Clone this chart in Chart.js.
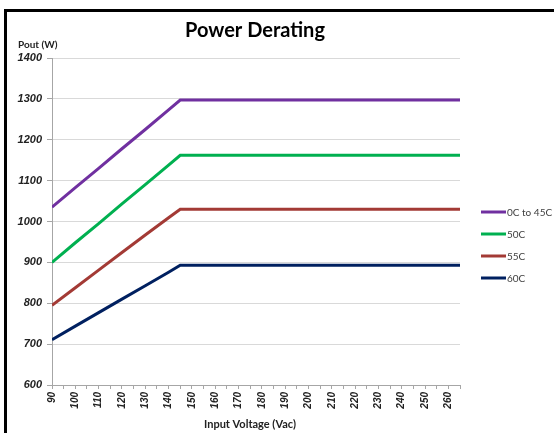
<!DOCTYPE html>
<html>
<head>
<meta charset="utf-8">
<script src="https://cdn.jsdelivr.net/npm/chart.js@4.4.0/dist/chart.umd.min.js"></script>
<style>
  html, body { margin: 0; padding: 0; background: #fff; }
  #wrap { position: relative; width: 554px; height: 433px; overflow: hidden; }
  #c { position: absolute; left: 0; top: 0; }
  .bl { position: absolute; left: 4px; top: 9px; width: 3px; height: 424px; background: #000; }
  .bt { position: absolute; left: 4px; top: 9px; width: 550px; height: 3px; background: #000; }
</style>
</head>
<body>
<div id="wrap">
  <canvas id="c" width="554" height="433"></canvas>
  <div class="bl"></div>
  <div class="bt"></div>
</div>
<script>
const chartTitle = 'Power Derating';
const yAxisTitle = 'Pout (W)';
const xAxisTitle = 'Input Voltage (Vac)';
const voltage = [90, 100, 110, 120, 130, 140, 145, 265];
const seriesNames = ['0C to 45C', '50C', '55C', '60C'];
const s0to45 = [1035, 1083, 1130, 1178, 1225, 1273, 1297, 1297];
const s50 = [900, 948, 995, 1043, 1090, 1138, 1162, 1162];
const s55 = [795, 838, 881, 924, 967, 1009, 1030, 1030];
const s60 = [711, 744, 777, 810, 843, 876, 893, 893];
const seriesColors = ['#7030A0', '#00B050', '#A33A35', '#002060'];
const xMin = 90, xMax = 265, xStep = 5, xLabelStep = 10, xLastLabel = 260;
const yMin = 600, yMax = 1400, yStep = 100;

const allSeries = [s0to45, s50, s55, s60];
const datasets = allSeries.map((vals, i) => ({
  label: seriesNames[i],
  data: vals.map((v, j) => ({ x: voltage[j], y: v })),
  borderColor: seriesColors[i],
  backgroundColor: seriesColors[i],
  borderWidth: 3,
  pointRadius: 0,
  tension: 0,
  fill: false
}));

const decor = {
  id: 'decor',
  afterDraw(chart) {
    const ctx = chart.ctx;
    ctx.save();
    ctx.fillStyle = '#000';
    ctx.textAlign = 'center';
    ctx.textBaseline = 'middle';
    ctx.font = 'bold 20px Lato';
    ctx.fillText(chartTitle, 255, 31);
    ctx.font = 'bold 10px Lato';
    ctx.textAlign = 'left';
    ctx.fillStyle = '#222';
    ctx.fillText(yAxisTitle, 18, 45);
    ctx.textAlign = 'center';
    ctx.font = 'bold 11px Lato';
    ctx.fillText(xAxisTitle, 250, 424);
    // legend
    const lx = 481, ly = 212, gap = 22;
    chart.data.datasets.forEach((ds, i) => {
      const y = ly + i * gap;
      ctx.strokeStyle = ds.borderColor;
      ctx.lineWidth = 3;
      ctx.beginPath();
      ctx.moveTo(lx, y);
      ctx.lineTo(lx + 25, y);
      ctx.stroke();
      ctx.fillStyle = '#404040';
      ctx.font = '10px Lato';
      ctx.textAlign = 'left';
      ctx.fillText(ds.label, lx + 26, y + 0.5);
    });
    ctx.restore();
  }
};

new Chart(document.getElementById('c'), {
  type: 'line',
  data: { datasets },
  options: {
    responsive: false,
    animation: false,
    devicePixelRatio: 1,
    layout: { padding: { left: 0, top: 58, right: 94, bottom: 0 } },
    plugins: { legend: { display: false }, title: { display: false }, tooltip: { enabled: false } },
    scales: {
      x: {
        type: 'linear',
        min: xMin, max: xMax,
        afterFit(s) { s.height = 48; },
        border: { display: true, color: '#A6A6A6', width: 1 },
        grid: { display: true, drawOnChartArea: false, drawTicks: true, tickLength: 4, color: '#A6A6A6' },
        ticks: {
          stepSize: xStep,
          autoSkip: false,
          minRotation: 90, maxRotation: 90,
          padding: 3,
          color: '#222',
          font: { family: 'Liberation Sans', size: 10, weight: 'bold', style: 'italic' },
          callback: (v) => (v % xLabelStep === 0 && v <= xLastLabel) ? String(v) : ''
        }
      },
      y: {
        type: 'linear',
        min: yMin, max: yMax,
        afterFit(s) { s.width = 52; },
        border: { display: true, color: '#A6A6A6', width: 1 },
        grid: { color: '#D9D9D9', lineWidth: 1, tickLength: 5, tickColor: '#A6A6A6' },
        ticks: {
          stepSize: yStep,
          padding: 5,
          color: '#222',
          font: { family: 'Liberation Sans', size: 11, weight: 'bold', style: 'italic' },
          callback: (v) => String(v)
        }
      }
    }
  },
  plugins: [decor]
});
</script>
</body>
</html>
